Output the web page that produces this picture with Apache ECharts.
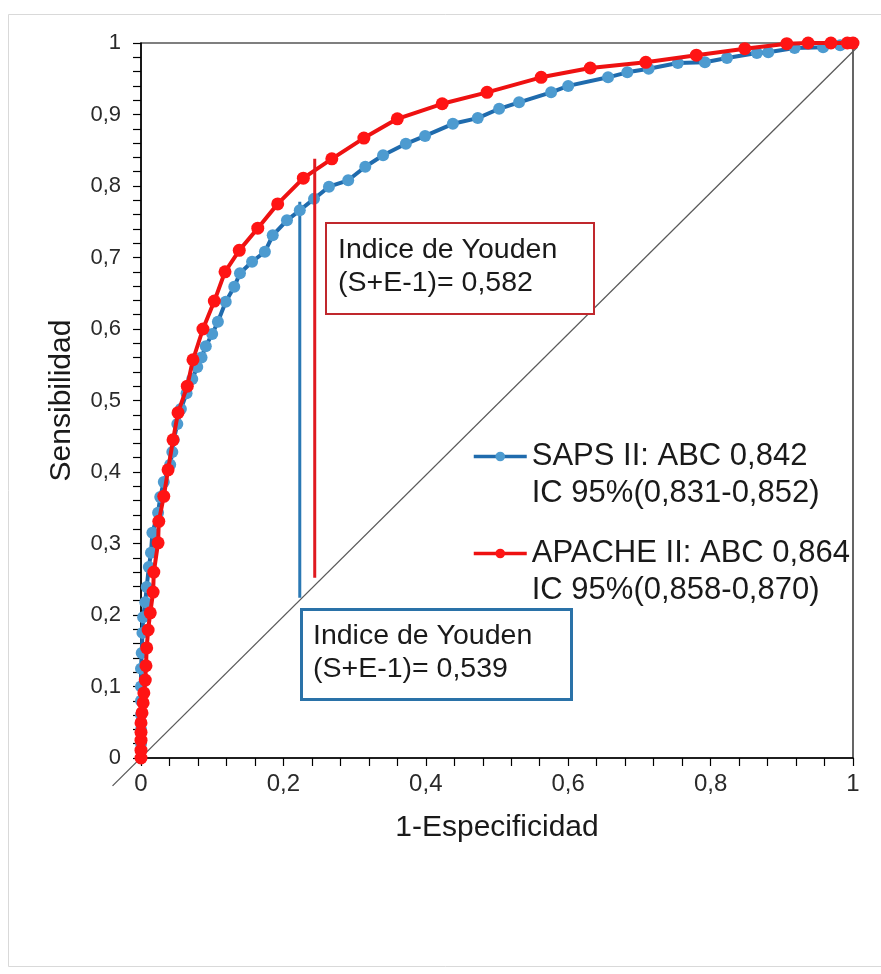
<!DOCTYPE html>
<html>
<head>
<meta charset="utf-8">
<script src="https://cdn.jsdelivr.net/npm/echarts@6/dist/echarts.min.js"></script>
<style>
  html, body { margin: 0; padding: 0; background: #ffffff; }
  #chart { width: 881px; height: 974px; }
</style>
</head>
<body>
<div id="chart"></div>
<script>
// ROC curves: 1-Especificidad (x) vs Sensibilidad (y)
const sapsX = [0,0,0,0,0,0,0,0.001,0.002,0.003,0.006,0.008,0.011,0.014,0.016,0.024,0.027,0.032,0.041,0.044,0.046,0.051,0.056,0.064,0.072,0.079,0.085,0.091,0.100,0.108,0.119,0.131,0.139,0.156,0.174,0.185,0.205,0.223,0.243,0.264,0.291,0.315,0.340,0.372,0.399,0.438,0.473,0.503,0.531,0.576,0.600,0.656,0.683,0.713,0.754,0.792,0.823,0.865,0.881,0.918,0.958,0.982,0.996,1];
const sapsY = [0,0.02,0.04,0.06,0.08,0.10,0.125,0.147,0.175,0.197,0.218,0.239,0.267,0.287,0.315,0.343,0.365,0.386,0.410,0.428,0.445,0.467,0.488,0.510,0.530,0.547,0.560,0.576,0.593,0.610,0.638,0.659,0.678,0.694,0.708,0.731,0.752,0.766,0.782,0.799,0.808,0.827,0.843,0.859,0.870,0.887,0.895,0.908,0.917,0.931,0.940,0.952,0.959,0.964,0.972,0.973,0.979,0.986,0.987,0.993,0.994,0.997,1.0,1];

const apacheX = [0,0,0,0,0,0.0014,0.003,0.004,0.006,0.007,0.008,0.010,0.013,0.017,0.018,0.024,0.025,0.032,0.038,0.045,0.052,0.065,0.073,0.087,0.103,0.118,0.138,0.164,0.192,0.228,0.268,0.313,0.360,0.423,0.486,0.562,0.631,0.709,0.780,0.848,0.907,0.937,0.969,0.992,1];
const apacheY = [0,0.011,0.025,0.036,0.049,0.063,0.077,0.091,0.109,0.129,0.154,0.179,0.203,0.232,0.260,0.301,0.331,0.366,0.403,0.445,0.483,0.520,0.557,0.600,0.639,0.680,0.710,0.741,0.775,0.811,0.838,0.867,0.894,0.915,0.931,0.952,0.965,0.973,0.983,0.992,0.999,1,1,1,1];

// Chance diagonal (runs slightly past both corners of the plot)
const diagX = [-0.04, 1.006];
const diagY = [-0.039, 0.994];

// Youden cut-off segments: x position, lower and upper sensitivity
const youdenSapsX = [0.223, 0.223];
const youdenSapsY = [0.224, 0.778];
const youdenApacheX = [0.244, 0.244];
const youdenApacheY = [0.252, 0.838];

const seriesNames = ['SAPS II', 'APACHE II'];
const legendLabels = {
  'SAPS II': ['SAPS II: ABC 0,842', 'IC 95%(0,831-0,852)'],
  'APACHE II': ['APACHE II: ABC 0,864', 'IC 95%(0,858-0,870)']
};
const youdenTexts = {
  apache: ['Indice de Youden', '(S+E-1)= 0,582'],
  saps: ['Indice de Youden', '(S+E-1)= 0,539']
};

const zip = (xs, ys) => xs.map((x, i) => [x, ys[i]]);
const fmtTick = v => (v === 0 ? '0' : v === 1 ? '1' : v.toFixed(1).replace('.', ','));

const FONT = '"Liberation Sans", Arial, sans-serif';
const chart = echarts.init(document.getElementById('chart'), null, { renderer: 'canvas' });

function legendFor(name, top) {
  return {
    data: [name],
    left: 472,
    top: top,
    padding: 0,
    itemWidth: 53,
    itemHeight: 12,
    selectedMode: false,
    lineStyle: { width: 3.5 },
    formatter: n => ' \n' + legendLabels[n].join('\n'),
    textStyle: { fontFamily: FONT, fontSize: 31, lineHeight: 37, color: '#1a1a1a' }
  };
}

function youdenBox(x, y, w, h, stroke, lineW, lines, tx, ty) {
  return [
    {
      type: 'rect', left: x, top: y, z: 50,
      shape: { width: w, height: h },
      style: { fill: '#ffffff', stroke: stroke, lineWidth: lineW }
    },
    {
      type: 'text', left: tx, top: ty, z: 51,
      style: { text: lines.join('\n'), font: '28.5px ' + FONT, lineHeight: 33, fill: '#1a1a1a' }
    }
  ];
}

const axisCommon = {
  type: 'value', min: 0, max: 1,
  nameLocation: 'middle',
  nameTextStyle: { fontFamily: FONT, fontSize: 30, color: '#1a1a1a' },
  axisLine: { show: true, lineStyle: { color: '#000', width: 1.5 } },
  axisTick: { show: true, length: 8, lineStyle: { color: '#000', width: 1.2 } },
  minorTick: { show: true, splitNumber: 5, length: 8, lineStyle: { color: '#000', width: 1.2 } },
  splitLine: { show: false }
};

const option = {
  backgroundColor: '#ffffff',
  animation: false,
  grid: { left: 141, right: 28, top: 43, bottom: 216, show: true, borderColor: '#000', borderWidth: 1.2 },
  xAxis: Object.assign({}, axisCommon, {
    interval: 0.2, name: '1-Especificidad', nameGap: 55,
    axisLabel: { formatter: fmtTick, fontFamily: FONT, fontSize: 24, color: '#2a2a2a', margin: 14 }
  }),
  yAxis: Object.assign({}, axisCommon, {
    interval: 0.1, name: 'Sensibilidad', nameGap: 64,
    axisLabel: { formatter: fmtTick, fontFamily: FONT, fontSize: 22, color: '#2a2a2a', margin: 20 }
  }),
  legend: [legendFor('SAPS II', 401), legendFor('APACHE II', 498)],
  series: [
    {
      name: 'youdenSaps', type: 'line', data: zip(youdenSapsX, youdenSapsY),
      symbol: 'none', silent: true, z: 2,
      lineStyle: { color: '#2a78b4', width: 3 }
    },
    {
      name: seriesNames[0], type: 'line', data: zip(sapsX, sapsY), z: 3,
      symbol: 'circle', symbolSize: 12, showAllSymbol: true,
      itemStyle: { color: '#4d9bd0' },
      lineStyle: { color: '#1f6bad', width: 4 }
    },
    {
      name: seriesNames[1], type: 'line', data: zip(apacheX, apacheY), z: 4,
      symbol: 'circle', symbolSize: 13, showAllSymbol: true,
      itemStyle: { color: '#ff1414' },
      lineStyle: { color: '#ee1111', width: 4 }
    },
    {
      name: 'youdenApache', type: 'line', data: zip(youdenApacheX, youdenApacheY),
      symbol: 'none', silent: true, z: 5,
      lineStyle: { color: '#e01a20', width: 3 }
    }
  ],
  graphic: [
    {
      type: 'rect', left: 6, top: 12, z: -1, silent: true,
      shape: { width: 900, height: 952 },
      style: { fill: 'none', stroke: '#d9d9d9', lineWidth: 1 }
    },
    ...youdenBox(325, 222, 268, 91, '#c0282d', 2, youdenTexts.apache, 338, 234),
    ...youdenBox(300, 608, 270, 90, '#2a72a8', 3, youdenTexts.saps, 313, 620)
  ]
};

chart.setOption(option);

// Diagonal reference line, placed through the axes' own scales so it can
// extend past the plot corners without being clipped by the grid.
const p0 = chart.convertToPixel({ gridIndex: 0 }, [diagX[0], diagY[0]]);
const p1 = chart.convertToPixel({ gridIndex: 0 }, [diagX[1], diagY[1]]);
chart.setOption({
  graphic: [{
    id: 'diagonal', type: 'line', z: 1, silent: true,
    shape: { x1: p0[0], y1: p0[1], x2: p1[0], y2: p1[1] },
    style: { stroke: '#5a5a5a', lineWidth: 1.3 }
  }]
});
</script>
</body>
</html>
